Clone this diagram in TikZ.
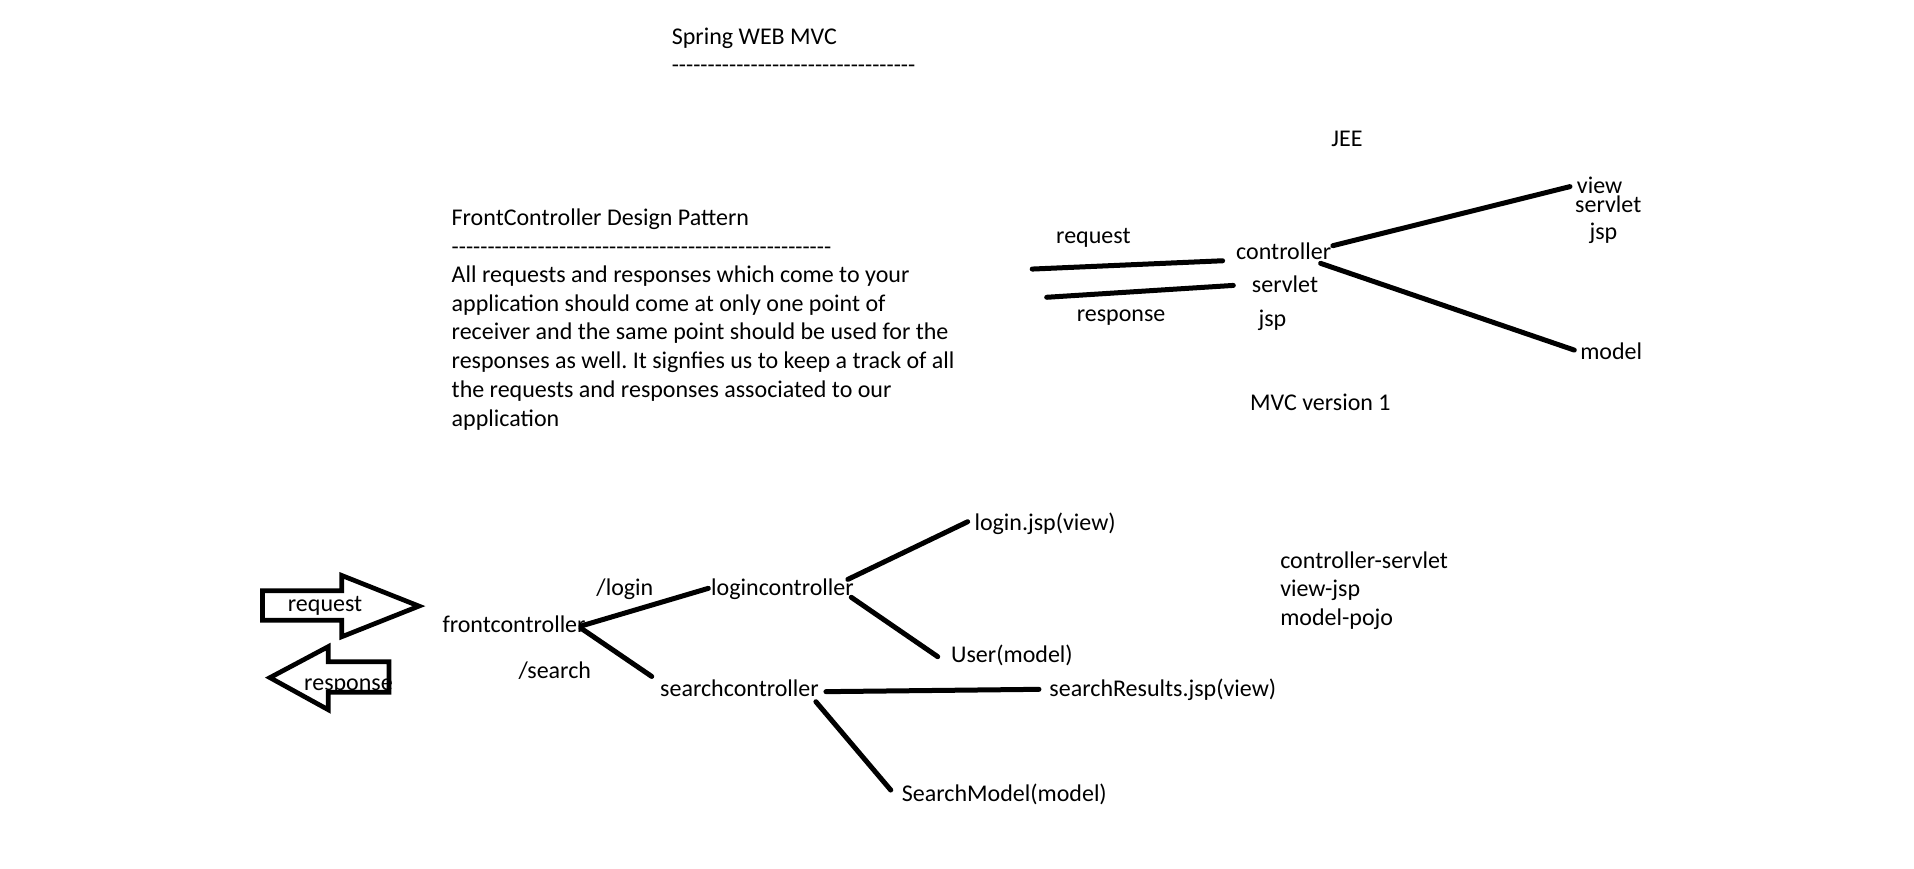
\documentclass[tikz,border=0pt]{standalone}
\usepackage{fontspec}
\setmainfont{Carlito}
\newcommand\dashrow[1]{\foreach \dd in {1,...,#1}{\mbox{-}}}
\tikzset{
 txt/.style={inner sep=0pt, anchor=base west, text height=17pt, text depth=5pt, font=\fontsize{24bp}{29bp}\selectfont\frenchspacing},
 dashtxt/.style={txt, font=\fontsize{23.4bp}{29bp}\selectfont},
 conn/.style={line width=5bp, line cap=round},
 blockarrow/.style={line width=4.7bp, line join=miter},
}
\begin{document}
\begin{tikzpicture}[x=1.22692bp,y=-1.22692bp]
\useasboundingbox[fill=white] (0,0) rectangle (1560,708.27);
% top titles
\node[txt] (title) at (547.4,35.9) {Spring WEB MVC};
\node[dashtxt] (titledash) at (547.4,59.4) {\dashrow{34}};
\node[txt] (jee) at (1085,119.5) {JEE};
\node[txt] (fcdp) at (368,183.4) {FrontController Design Pattern};
\node[dashtxt] (fcdash) at (368,207.1) {\dashrow{53}};
\node[txt] (p1) at (368,230) {All requests and responses which come to your};
\node[txt] (p2) at (368,253.5) {application should come at only one point of};
\node[txt] (p3) at (368,277) {receiver and the same point should be used for the};
\node[txt] (p4) at (368,300.5) {responses as well. It signfies us to keep a track of all};
\node[txt] (p5) at (368,324) {the requests and responses associated to our};
\node[txt] (p6) at (368,347.6) {application};
% MVC version 1
\node[txt] (req) at (860.7,198.3) {request};
\node[txt] (ctrl) at (1007.4,211.4) {controller};
\node[txt] (srv) at (1020.2,238.3) {servlet};
\node[txt] (resp) at (877.5,262.2) {response};
\node[txt] (jsp) at (1025.6,266.5) {jsp};
\node[txt, text depth=0pt] (view) at (1285.1,157.6) {view};
\node[txt] (vsrv) at (1283.7,173) {servlet};
\node[txt] (vjsp) at (1295.4,195.1) {jsp};
\node[txt] (model) at (1287.8,293.4) {model};
\node[txt] (mvc1) at (1018.8,334.7) {MVC version 1};
\coordinate (reqstart) at (841.3,219.3);
\coordinate (respstart) at (853.1,242.3);
\draw[conn] (reqstart) -- ([shift={(-10.9,6)}]ctrl.west);
\draw[conn] (respstart) -- ([shift={(-15,-0.8)}]srv.west);
\draw[conn] ([shift={(1.2,-6.3)}]ctrl.east) -- ([shift={(-5.5,1.4)}]view.west);
\draw[conn] ([shift={(-8.8,8.1)}]ctrl.east) -- ([shift={(-4.7,-3.2)}]model.west);
% bottom block arrows
\draw[blockarrow] (214,481.5) -- (278.5,481.5) -- (278.5,469) -- (341.5,494) -- (278.5,519) -- (278.5,505.5) -- (214,505.5) -- cycle;
\draw[blockarrow] (317,539.3) -- (267.6,539.3) -- (267.6,527) -- (220,552.3) -- (267.6,578.5) -- (267.6,564.2) -- (317,564.2) -- cycle;
\node[txt] (breq) at (234.5,498) {request};
\node[txt] (bresp) at (247.8,562.4) {response};
% Spring tree
\node[txt] (front) at (360.5,515.7) {frontcontroller};
\node[txt] (llogin) at (486,485) {/login};
\node[txt] (loginc) at (579.5,485) {logincontroller};
\node[txt] (lsearch) at (422.5,553.4) {/search};
\node[txt] (search) at (537.9,567.8) {searchcontroller};
\node[txt] (ljsp) at (794.1,432.5) {login.jsp(view)};
\node[txt] (user) at (775.1,540.1) {User(model)};
\node[txt] (sres) at (855.2,567.8) {searchResults.jsp(view)};
\node[txt] (smodel) at (734.9,653.4) {SearchModel(model)};
\node[txt] (cs) at (1043.3,463.2) {controller-servlet};
\node[txt] (vj) at (1043.3,486.3) {view-jsp};
\node[txt] (mp) at (1043.3,509.6) {model-pojo};
\draw[conn] ([shift={(-3.9,-0.6)}]front.east) -- ([shift={(-2.2,-0.6)}]loginc.west);
\draw[conn] ([shift={(-3.9,1.2)}]front.east) -- ([shift={(-6.7,-2.5)}]search.north west);
\draw[conn] ([shift={(-5,-7.9)}]loginc.east) -- ([shift={(-5.4,-2.4)}]ljsp.west);
\draw[conn] ([shift={(-2.2,6.7)}]loginc.east) -- ([shift={(-10.8,0)}]user.west);
\draw[conn] ([shift={(5.7,0.8)}]search.east) -- ([shift={(-8.4,-1.1)}]sres.west);
\draw[conn] ([shift={(-2.5,9)}]search.east) -- ([shift={(-8.9,-4.6)}]smodel.west);
\end{tikzpicture}
\end{document}
